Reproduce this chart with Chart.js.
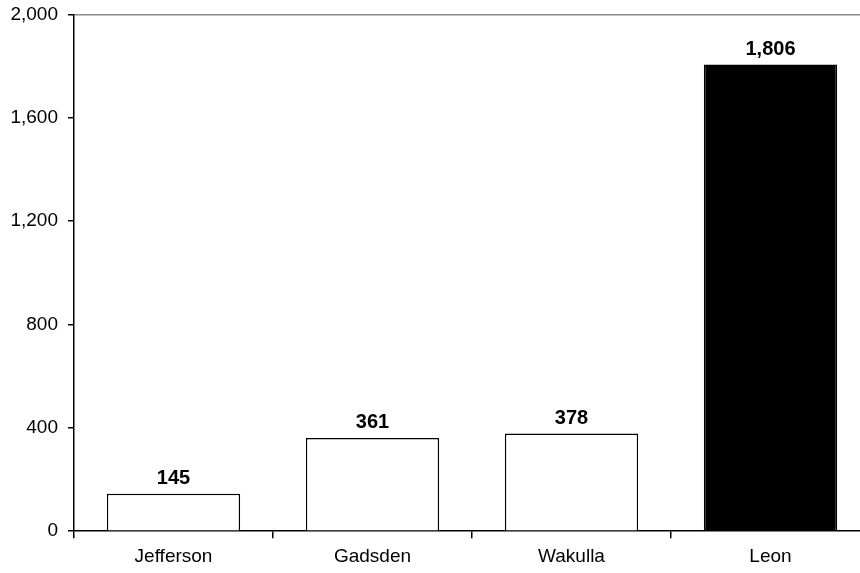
<!DOCTYPE html>
<html>
<head>
<meta charset="utf-8">
<script src="https://cdn.jsdelivr.net/npm/chart.js@4/dist/chart.umd.min.js"></script>
<style>
  html, body { margin: 0; padding: 0; background: #fff; overflow: hidden; }
  #wrap { width: 880px; height: 582px; position: absolute; top: -7px; left: 0; }
</style>
</head>
<body>
<div id="wrap"><canvas id="barChart"></canvas></div>
<script>
// chart data
var counties = ['Jefferson', 'Gadsden', 'Wakulla', 'Leon'];
var counts = [145, 361, 378, 1806];
var barFills = ['#ffffff', '#ffffff', '#ffffff', '#000000'];
var yTicks = [0, 400, 800, 1200, 1600, 2000];

// draws the bold value above each bar
var valueLabels = {
    id: 'valueLabels',
    afterDatasetsDraw: function (chart) {
        var ctx = chart.ctx;
        var meta = chart.getDatasetMeta(0);
        ctx.save();
        ctx.font = 'bold 20px "Liberation Sans", Arial, sans-serif';
        ctx.fillStyle = '#000';
        ctx.textAlign = 'center';
        ctx.textBaseline = 'alphabetic';
        meta.data.forEach(function (bar, i) {
            ctx.fillText(counts[i].toLocaleString('en-US'), bar.x, bar.y - 10);
        });
        ctx.restore();
    }
};

Chart.defaults.font.family = '"Liberation Sans", Arial, sans-serif';
Chart.defaults.color = '#000';

new Chart(document.getElementById('barChart'), {
    type: 'bar',
    data: {
        labels: counties,
        datasets: [{
            data: counts,
            backgroundColor: barFills,
            borderColor: '#000',
            borderWidth: 1.5,
            barPercentage: 0.67,
            categoryPercentage: 1
        }]
    },
    options: {
        responsive: true,
        maintainAspectRatio: false,
        animation: false,
        layout: { padding: { top: 3, right: 10, bottom: 0, left: 0 } },
        plugins: {
            legend: { display: false },
            tooltip: { enabled: false }
        },
        scales: {
            x: {
                grid: {
                    offset: true,
                    drawOnChartArea: false,
                    tickLength: 7,
                    tickColor: '#000',
                    lineWidth: 1.5
                },
                border: { color: '#000', width: 1.5 },
                ticks: { font: { size: 19 }, padding: 7 }
            },
            y: {
                min: 0,
                max: 2000,
                afterFit: function (scale) { scale.width = 74; },
                afterBuildTicks: function (scale) {
                    scale.ticks = yTicks.map(function (v) { return { value: v }; });
                },
                grid: {
                    color: function (c) { return c.tick && c.tick.value === 2000 ? '#8a8a8a' : 'rgba(0,0,0,0)'; },
                    tickColor: '#000',
                    tickLength: 6,
                    lineWidth: 1.5
                },
                border: { color: '#000', width: 1.5 },
                ticks: {
                    font: { size: 19 },
                    padding: 10,
                    callback: function (v) { return v.toLocaleString('en-US'); }
                }
            }
        }
    },
    plugins: [valueLabels]
});
</script>
</body>
</html>
